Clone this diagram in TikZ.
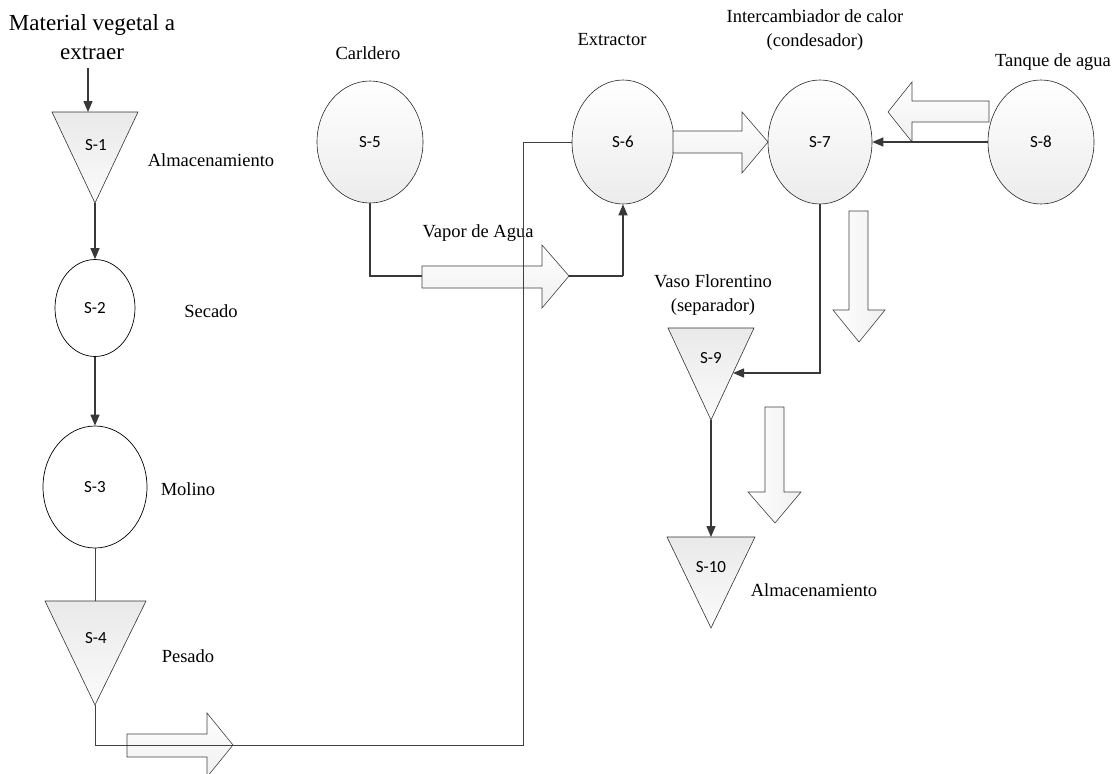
\documentclass[tikz,border=0pt]{standalone}
\usepackage{fontspec}
\setmainfont{Liberation Serif}
\newfontfamily\calfont{Carlito}
\usetikzlibrary{shapes.geometric,arrows.meta}
\begin{document}
\begin{tikzpicture}[x=1pt,y=-1pt,
  lbl/.style={font=\fontsize{18.5}{24}\selectfont, inner sep=0pt, align=center},
  biglbl/.style={font=\fontsize{23}{29}\selectfont, inner sep=0pt, align=center},
  slbl/.style={font=\calfont\fontsize{17}{19}\selectfont, inner sep=0pt},
  vessel/.style={ellipse, draw=black!85, line width=0.6pt, inner sep=0pt,
    top color=white, bottom color=gray!15, font=\calfont\fontsize{17}{19}\selectfont},
  plainvessel/.style={ellipse, draw=black, line width=0.7pt, inner sep=0pt, fill=white,
    font=\calfont\fontsize{17}{19}\selectfont},
  tank/.style={draw=black!80, line width=0.6pt, top color=gray!17, bottom color=gray!3},
  blockarrow/.style={draw=black!75, line width=0.6pt, top color=white, bottom color=gray!12},
  blockarrowv/.style={draw=black!75, line width=0.6pt, left color=white, right color=gray!12},
  flow/.style={draw=black!78, line width=1.4pt, -{Triangle[length=11pt,width=9pt]}},
  thickpipe/.style={draw=black!78, line width=1.4pt},
  pipe/.style={draw=black!75, line width=0.9pt}
]
\useasboundingbox (0,0) rectangle (1120,774);

% ---- tanks (triangles) ----
\path[tank] (52,112) -- (138,112) -- (95,203) -- cycle;
\coordinate (s1top) at (88,112);
\coordinate (s1apex) at (95,203);
\node[slbl] (s1) at (96,145) {S-1};

\path[tank] (45,601) -- (146,601) -- (95,705) -- cycle;
\coordinate (s4top) at (95,601);
\coordinate (s4apex) at (95,705);
\node[slbl] (s4) at (96,638) {S-4};

\path[tank] (668,328) -- (754,328) -- (711,420) -- cycle;
\coordinate (s9in) at (733,373);
\coordinate (s9apex) at (711,420);
\node[slbl] (s9) at (711,358) {S-9};

\path[tank] (667,537) -- (755,537) -- (711,628) -- cycle;
\coordinate (s10top) at (711,537);
\node[slbl] (s10) at (711,567) {S-10};

% ---- vessels ----
\node[plainvessel, minimum width=80pt, minimum height=97pt] (s2) at (95,308) {S-2};
\node[plainvessel, minimum width=104pt, minimum height=122pt] (s3) at (95,487) {S-3};
\node[vessel, minimum width=106pt, minimum height=122pt] (s5) at (370,142) {S-5};
\node[vessel, minimum width=102pt, minimum height=124pt] (s6) at (623,142) {S-6};
\node[vessel, minimum width=104pt, minimum height=124pt] (s7) at (820,142) {S-7};
\node[vessel, minimum width=106pt, minimum height=124pt] (s8) at (1041,142) {S-8};

% ---- labels ----
\node[biglbl] (tin) at (92,37) {Material vegetal a\\extraer};
\coordinate (in) at (88,68);
\node[lbl] (t1) at (211,160) {Almacenamiento};
\node[lbl] (t2) at (211,311) {Secado};
\node[lbl] (t3) at (188,489) {Molino};
\node[lbl] (t4) at (188,656) {Pesado};
\node[lbl] (t5) at (368,53) {Carldero};
\node[lbl] (t6) at (612,40) {Extractor};
\node[lbl] (t7) at (815,30) {Intercambiador de calor\\(condesador)};
\node[lbl] (t8) at (1053,62) {Tanque de agua};
\node[lbl] (tv) at (478,233) {Vapor de Agua};
\node[lbl] (t9) at (713,295) {Vaso Florentino\\(separador)};
\node[lbl] (t10) at (814,590) {Almacenamiento};

% ---- steam line (under block arrow) ----
\coordinate (vapjoin) at (623,276);
\draw[thickpipe] (s5.south) |- (vapjoin);

% ---- block arrows ----
\path[blockarrow] (127,734) -- (207,734) -- (207,713) -- (233,745) -- (207,777) -- (207,757) -- (127,757) -- cycle;
\path[blockarrow] (422,266) -- (542,266) -- (542,245) -- (569,276) -- (542,308) -- (542,288) -- (422,288) -- cycle;
\path[blockarrow] (673,131) -- (742,131) -- (742,112) -- (768,142) -- (742,173) -- (742,153) -- (673,153) -- cycle;
\path[blockarrow] (989,101) -- (912,101) -- (912,82) -- (888,112) -- (912,142) -- (912,122) -- (989,122) -- cycle;
\path[blockarrowv] (849,211) -- (849,310) -- (833,310) -- (859,342) -- (885,310) -- (868,310) -- (868,211) -- cycle;
\path[blockarrowv] (765,407) -- (765,492) -- (748,492) -- (775,523) -- (801,492) -- (784,492) -- (784,407) -- cycle;

% ---- connectors ----
\draw[flow] (in) -- (s1top);
\draw[flow] (s1apex) -- (s2.north);
\draw[flow] (s2.south) -- (s3.north);
\draw[pipe] (s3.south) -- (s4top);
\coordinate (bend1) at (523,745);
\draw[pipe] (s4apex) |- (bend1) |- (s6.west);
\draw[flow] (vapjoin) -- (s6.south);
\draw[flow] (s8.west) -- (s7.east);
\draw[flow] (s7.south) |- (s9in);
\draw[flow] (s9apex) -- (s10top);
\end{tikzpicture}
\end{document}
